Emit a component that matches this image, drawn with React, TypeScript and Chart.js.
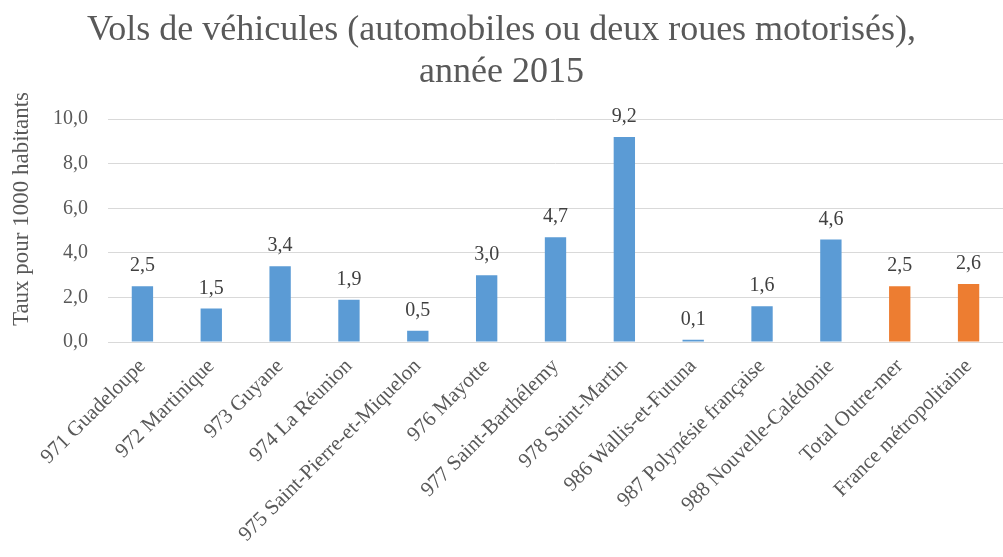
import React, { useEffect, useRef } from "react";
import { Chart, registerables } from "chart.js";

Chart.register(...registerables);

const categories = [
  "971 Guadeloupe",
  "972 Martinique",
  "973 Guyane",
  "974 La Réunion",
  "975 Saint-Pierre-et-Miquelon",
  "976 Mayotte",
  "977 Saint-Barthélemy",
  "978 Saint-Martin",
  "986 Wallis-et-Futuna",
  "987 Polynésie française",
  "988 Nouvelle-Calédonie",
  "Total Outre-mer",
  "France métropolitaine",
];
const values = [2.5, 1.5, 3.4, 1.9, 0.5, 3.0, 4.7, 9.2, 0.1, 1.6, 4.6, 2.5, 2.6];
const barColors = [
  "#5B9BD5", "#5B9BD5", "#5B9BD5", "#5B9BD5", "#5B9BD5", "#5B9BD5", "#5B9BD5",
  "#5B9BD5", "#5B9BD5", "#5B9BD5", "#5B9BD5", "#ED7D31", "#ED7D31",
];
const titleLines = ["Vols de véhicules (automobiles ou deux roues motorisés),", "année 2015"];
const yAxisTitle = "Taux pour 1000 habitants";
const yTicks = [0, 2, 4, 6, 8, 10];

const FONT = "'Liberation Serif', serif";
const TEXT = "#595959";

const fmt = (v: number) => v.toFixed(1).replace(".", ",");

const labelPlugin = {
  id: "valueLabels",
  afterDatasetsDraw(chart: any) {
    const ctx = chart.ctx;
    const meta = chart.getDatasetMeta(0);
    ctx.save();
    ctx.fillStyle = "#404040";
    ctx.font = `20px ${FONT}`;
    ctx.textAlign = "center";
    ctx.textBaseline = "alphabetic";
    meta.data.forEach((bar: any, i: number) => {
      ctx.fillText(fmt(values[i]), bar.x, bar.y - 15);
    });
    ctx.restore();
  },
};

const yTitlePlugin = {
  id: "yTitle",
  afterDraw(chart: any) {
    const ctx = chart.ctx;
    ctx.save();
    ctx.fillStyle = TEXT;
    ctx.font = `23px ${FONT}`;
    ctx.textAlign = "center";
    ctx.textBaseline = "middle";
    ctx.translate(22, 209);
    ctx.rotate(-Math.PI / 2);
    ctx.fillText(yAxisTitle, 0, 0);
    ctx.restore();
  },
};

export default function App() {
  const ref = useRef<HTMLCanvasElement>(null);
  useEffect(() => {
    document.body.style.margin = "0";
    const chart = new Chart(ref.current!, {
      type: "bar",
      data: {
        labels: categories,
        datasets: [
          {
            data: values,
            backgroundColor: barColors,
            categoryPercentage: 1,
            barPercentage: 0.31,
          },
        ],
      },
      options: {
        responsive: false,
        animation: false,
        layout: { padding: 0 },
        plugins: {
          legend: { display: false },
          tooltip: { enabled: false },
          title: {
            display: true,
            text: titleLines,
            color: TEXT,
            font: { family: FONT, size: 36, weight: "normal", lineHeight: 1.17 },
            padding: { top: 9, bottom: 26 },
          },
        },
        scales: {
          x: {
            grid: { display: false },
            border: { display: true, color: "#D9D9D9", width: 1 },
            ticks: {
              color: TEXT,
              font: { family: FONT, size: 21 },
              maxRotation: 45,
              minRotation: 45,
              autoSkip: false,
              padding: 4,
            },
            afterFit(scale: any) {
              scale.height = 215;
            },
          },
          y: {
            min: 0,
            max: 10,
            afterBuildTicks(scale: any) {
              scale.ticks = yTicks.map((v) => ({ value: v }));
            },
            grid: { color: "#D9D9D9", drawTicks: false },
            border: { display: false },
            ticks: {
              color: TEXT,
              font: { family: FONT, size: 20 },
              padding: 20,
              callback: (v: any) => fmt(Number(v)),
            },
            afterFit(scale: any) {
              scale.width = 108;
            },
          },
        },
      },
      plugins: [labelPlugin, yTitlePlugin],
    });
    return () => chart.destroy();
  }, []);
  return (
    <div style={{ width: 1003, height: 557 }}>
      <canvas ref={ref} width={1003} height={557} />
    </div>
  );
}
